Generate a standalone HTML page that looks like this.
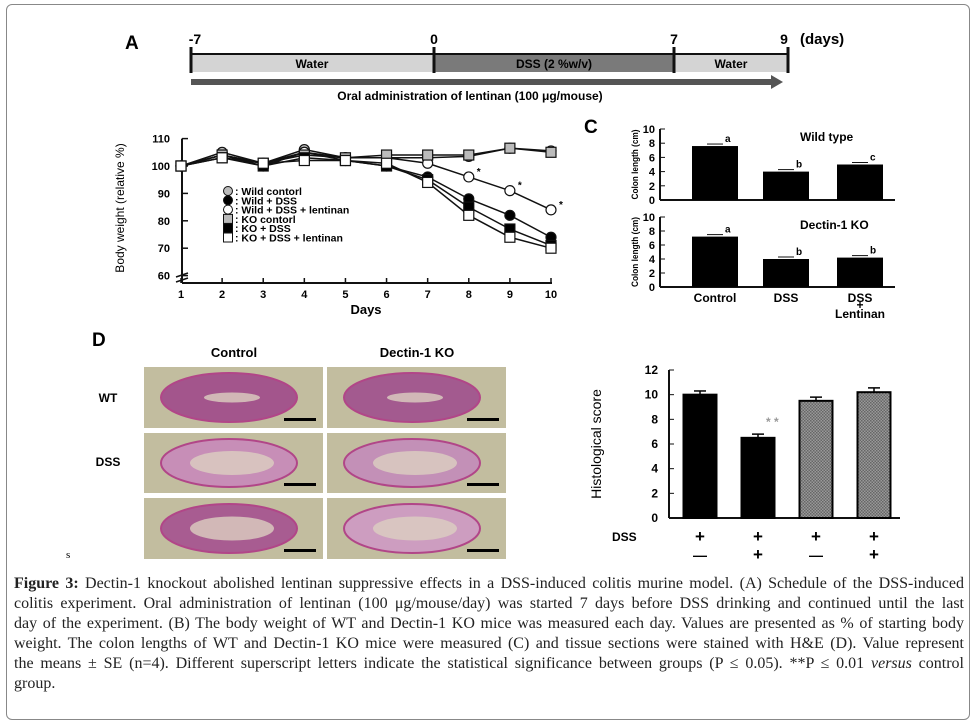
<!DOCTYPE html>
<html><head><meta charset="utf-8"><style>
body{margin:0;background:#fff;width:976px;height:724px;overflow:hidden;font-family:"Liberation Sans",sans-serif}
#frame{position:absolute;left:6px;top:4px;width:962px;height:714px;border:1px solid #888;border-radius:6px}
#cap{position:absolute;left:14px;top:574px;width:950px;font-family:"Liberation Serif",serif;font-size:16px;line-height:20px;color:#222}
#cap div{text-align:justify;text-align-last:justify;white-space:nowrap}
#cap div.last{text-align-last:left}
svg text{font-family:"Liberation Sans",sans-serif;font-weight:bold}
</style></head><body>
<div id="frame"></div>
<svg id="fig" width="976" height="724" style="position:absolute;left:0;top:0">
<g>
<text x="125" y="49" font-size="19">A</text>
<rect x="191" y="54" width="243" height="18" fill="#d4d4d4"/>
<rect x="434" y="54" width="240" height="18" fill="#7a7a7a"/>
<rect x="674" y="54" width="114" height="18" fill="#d4d4d4"/>
<line x1="191" y1="54" x2="788" y2="54" stroke="#111" stroke-width="2"/>
<g stroke="#111" stroke-width="3"><line x1="191" y1="47" x2="191" y2="73"/><line x1="434" y1="47" x2="434" y2="73"/><line x1="674" y1="47" x2="674" y2="73"/><line x1="788" y1="47" x2="788" y2="73"/></g>
<g font-size="14" text-anchor="middle"><text x="195" y="44">-7</text><text x="434" y="44">0</text><text x="674" y="44">7</text><text x="784" y="44">9</text></g>
<text x="800" y="44" font-size="15">(days)</text>
<g font-size="12" text-anchor="middle"><text x="312" y="68">Water</text><text x="554" y="68">DSS (2 %w/v)</text><text x="731" y="68">Water</text></g>
<rect x="191" y="79" width="580" height="6" fill="#555"/>
<polygon points="771,75 783,82 771,89" fill="#555"/>
<text x="470" y="100" font-size="12" text-anchor="middle">Oral administration of lentinan (100 μg/mouse)</text>
</g>
<g id="pb"></g>
<g id="pc"></g>
<g id="pd-img"></g>
<g id="pd"></g>
<text x="66" y="558" font-size="11" style="font-family:'Liberation Serif',serif;font-weight:normal">s</text>
</svg>
<div id="cap">
<div><b>Figure 3:</b> Dectin-1 knockout abolished lentinan suppressive effects in a DSS-induced colitis murine model. (A) Schedule of the DSS-induced</div>
<div>colitis experiment. Oral administration of lentinan (100 μg/mouse/day) was started 7 days before DSS drinking and continued until the last</div>
<div>day of the experiment. (B) The body weight of WT and Dectin-1 KO mice was measured each day. Values are presented as % of starting body</div>
<div>weight. The colon lengths of WT and Dectin-1 KO mice were measured (C) and tissue sections were stained with H&amp;E (D). Value represent</div>
<div>the means ± SE (n=4). Different superscript letters indicate the statistical significance between groups (P ≤ 0.05). **P ≤ 0.01 <i>versus</i> control</div>
<div class="last">group.</div>
</div>
<script>
const NS='http://www.w3.org/2000/svg';
function mk(p,t,a,txt){const e=document.createElementNS(NS,t);for(const k in a)e.setAttribute(k,a[k]);if(txt!==undefined)e.textContent=txt;p.appendChild(e);return e;}
// ---- Panel B data
const days=[1,2,3,4,5,6,7,8,9,10];
const bTicks=[60,70,80,90,100,110];
const wildControl=[100,105,101,106,103,103,103,103.5,106.5,105.5];
const wildDss=[100,104,100,105,102,100,96,88,82,74];
const wildDssLent=[100,104,101,105,103,103,101,96,91,84];
const koControl=[100,104,101,104,103,104,104,104,106.5,105];
const koDss=[100,103,100,103,102,100,95,85,77,71];
const koDssLent=[100,103,101,102,102,101,94,82,74,70];
const seriesNames=['Wild contorl','Wild + DSS','Wild + DSS + lentinan','KO contorl','KO + DSS','KO + DSS + lentinan'];
// ---- Panel C data
const cCats=['Control','DSS','DSS\n+\nLentinan'];
const cTicks=[0,2,4,6,8,10];
const wtColon=[7.6,4.0,5.0];
const wtLetters=['a','b','c'];
const koColon=[7.2,4.0,4.2];
const koLetters=['a','b','b'];
// ---- Panel D data
const dTicks=[0,2,4,6,8,10,12];
const histScore=[10.0,6.5,9.5,10.2];
const histErr=[0.3,0.3,0.3,0.35];
const dssRow=['+','+','+','+'];
const lentRow=['—','+','—','+'];

// Panel B
(function(){
 const g=document.getElementById('pb');
 const x=d=>181+(d-1)*(551-181)/9, y=v=>166-(v-100)*2.74;
 mk(g,'line',{x1:182,y1:y(110),x2:182,y2:283,stroke:'#111','stroke-width':2});
 mk(g,'line',{x1:182,y1:283,x2:552,y2:283,stroke:'#111','stroke-width':2});
 mk(g,'path',{d:'M176 277 l12 -4 M176 282 l12 -4',stroke:'#111','stroke-width':1.5});
 bTicks.forEach(t=>{mk(g,'line',{x1:182,y1:y(t),x2:188,y2:y(t),stroke:'#111','stroke-width':1.5});
  const l=mk(g,'text',{x:170,y:y(t)+4,'font-size':11,'text-anchor':'end'},t);});
 days.forEach(d=>{mk(g,'line',{x1:x(d),y1:283,x2:x(d),y2:278,stroke:'#111','stroke-width':1.5});
  const l=mk(g,'text',{x:x(d),y:298,'font-size':11,'text-anchor':'middle'},d);});
 mk(g,'text',{x:366,y:314,'font-size':13,'text-anchor':'middle'},'Days');
 mk(g,'text',{x:0,y:0,'font-size':12,'text-anchor':'middle',transform:'translate(124,208) rotate(-90)',style:'font-weight:normal'},'Body weight (relative %)');
 const all=[wildControl,wildDss,wildDssLent,koControl,koDss,koDssLent];
 const fills=['#bbb','#000','#fff','#bbb','#000','#fff'];
 const circ=[true,true,true,false,false,false];
 all.forEach((s,i)=>{
  const ln=mk(g,'polyline',{points:s.map((v,j)=>x(days[j])+','+y(v)).join(' '),fill:'none',stroke:'#111','stroke-width':1.5});
  
  
  s.forEach((v,j)=>{let m;
   if(circ[i]) m=mk(g,'circle',{cx:x(days[j]),cy:y(v),r:5,fill:fills[i],stroke:'#111','stroke-width':1.2});
   else m=mk(g,'rect',{x:x(days[j])-5,y:y(v)-5,width:10,height:10,fill:fills[i],stroke:'#111','stroke-width':1.2});
   
   });
 });
 [[8,wildDssLent[7]],[9,wildDssLent[8]],[10,wildDssLent[9]]].forEach(([d,v])=>mk(g,'text',{x:x(d)+8,y:y(v)-2,'font-size':10},'*'));
 seriesNames.forEach((n,i)=>{const yy=191+i*9.3;
  if(circ[i]) mk(g,'circle',{cx:228,cy:yy,r:4.5,fill:fills[i],stroke:'#111'});
  else mk(g,'rect',{x:223.5,y:yy-4.5,width:9,height:9,fill:fills[i],stroke:'#111'});
  const t=mk(g,'text',{x:235,y:yy+4,'font-size':10.5},': '+n);});
})();
// Panel C
(function(){
 const g=document.getElementById('pc');
 mk(g,'text',{x:584,y:133,'font-size':19},'C');
 const bx=[715,786,860], bw=46;
 function chart(top,base,vals,letters,title){
  const y=v=>base-v*(base-top)/10;
  mk(g,'line',{x1:660,y1:top,x2:660,y2:base,stroke:'#111','stroke-width':2});
  mk(g,'line',{x1:660,y1:base,x2:895,y2:base,stroke:'#111','stroke-width':2});
  cTicks.forEach(t=>{mk(g,'line',{x1:660,y1:y(t),x2:665,y2:y(t),stroke:'#111'});mk(g,'text',{x:655,y:y(t)+4,'font-size':11,'text-anchor':'end'},t);});
  vals.forEach((v,i)=>{const r=mk(g,'rect',{x:bx[i]-bw/2,y:y(v),width:bw,height:base-y(v),fill:'#000'});
   
   mk(g,'line',{x1:bx[i]-8,y1:y(v)-2,x2:bx[i]+8,y2:y(v)-2,stroke:'#111'});
   mk(g,'text',{x:bx[i]+10,y:y(v)-4,'font-size':10,'font-weight':'normal'},letters[i]);});
  mk(g,'text',{x:800,y:top+12,'font-size':12},title);
  mk(g,'text',{x:0,y:0,'font-size':9,'text-anchor':'middle',textLength:70,lengthAdjust:'spacingAndGlyphs',transform:'translate(638,'+((top+base)/2)+') rotate(-90)'},'Colon length (cm)');
 }
 chart(129,200,wtColon,wtLetters,'Wild type');
 chart(217,287,koColon,koLetters,'Dectin-1 KO');
 const ly=[302,309,318];
 cCats.forEach((c,i)=>c.split('\n').forEach((s,k)=>mk(g,'text',{x:bx[i],y:ly[k],'font-size':12,'text-anchor':'middle'},s)));
})();
// Panel D images
(function(){
 const g=document.getElementById('pd-img');
 mk(g,'text',{x:92,y:346,'font-size':19},'D');
 mk(g,'text',{x:234,y:357,'font-size':13,'text-anchor':'middle'},'Control');
 mk(g,'text',{x:417,y:357,'font-size':13,'text-anchor':'middle'},'Dectin-1 KO');
 mk(g,'text',{x:108,y:402,'font-size':12,'text-anchor':'middle'},'WT');
 mk(g,'text',{x:108,y:466,'font-size':12,'text-anchor':'middle'},'DSS');
 const cols=[144,327], rows=[[367,61],[433,60],[498,61]];
 const tint=[['#a04a8a','#a0508e'],['#c88aba','#c48cba'],['#a65290','#cf9ac4']];
 rows.forEach((r,ri)=>cols.forEach((cx,ci)=>{
  const im=mk(g,'rect',{x:cx,y:r[0],width:179,height:r[1],fill:'#c2bd9f'});
  
  mk(g,'ellipse',{cx:cx+85,cy:r[0]+r[1]/2,rx:68,ry:r[1]/2-6,fill:tint[ri][ci],stroke:'#b03a86','stroke-width':2,opacity:0.9});
  mk(g,'ellipse',{cx:cx+88,cy:r[0]+r[1]/2,rx:ri==0?28:42,ry:ri==0?5:12,fill:'#dcd0c0',opacity:0.8});
  mk(g,'rect',{x:cx+140,y:r[0]+r[1]-10,width:32,height:3,fill:'#000'});
 }));
})();
// Panel D chart
(function(){
 const g=document.getElementById('pd');
 const top=370,base=518,y=v=>base-v*(base-top)/12;
 const bx=[700,758,816,874],bw=33;
 mk(g,'line',{x1:669,y1:top,x2:669,y2:base,stroke:'#111','stroke-width':2});
 mk(g,'line',{x1:669,y1:base,x2:900,y2:base,stroke:'#111','stroke-width':2});
 dTicks.forEach(t=>{mk(g,'line',{x1:669,y1:y(t),x2:674,y2:y(t),stroke:'#111'});mk(g,'text',{x:658,y:y(t)+4,'font-size':12,'text-anchor':'end'},t);});
 mk(g,'text',{x:0,y:0,'font-size':14,'text-anchor':'middle',transform:'translate(601,444) rotate(-90)',style:'font-weight:normal'},'Histological score');
 mk(g,'defs',{}).innerHTML='<pattern id="chk" width="3" height="3" patternUnits="userSpaceOnUse"><rect width="3" height="3" fill="#999"/><rect width="1.5" height="1.5" fill="#666"/><rect x="1.5" y="1.5" width="1.5" height="1.5" fill="#666"/></pattern>';
 histScore.forEach((v,i)=>{
  const r=mk(g,'rect',{x:bx[i]-bw/2,y:y(v),width:bw,height:base-y(v),fill:i<2?'#000':'url(#chk)',stroke:'#000','stroke-width':2});
  
  mk(g,'line',{x1:bx[i],y1:y(v),x2:bx[i],y2:y(v+histErr[i]),stroke:'#000','stroke-width':1.5});
  mk(g,'line',{x1:bx[i]-6,y1:y(v+histErr[i]),x2:bx[i]+6,y2:y(v+histErr[i]),stroke:'#000','stroke-width':1.5});
  mk(g,'text',{x:bx[i],y:542,'font-size':17,'text-anchor':'middle'},dssRow[i]);
  mk(g,'text',{x:bx[i],y:560,'font-size':lentRow[i]=='+'?17:14,'text-anchor':'middle'},lentRow[i]);
 });
 mk(g,'text',{x:766,y:y(histScore[1])-12,'font-size':12,fill:'#999'},'* *');
 mk(g,'text',{x:612,y:541,'font-size':12},'DSS');
})();
</script>
</body></html>
